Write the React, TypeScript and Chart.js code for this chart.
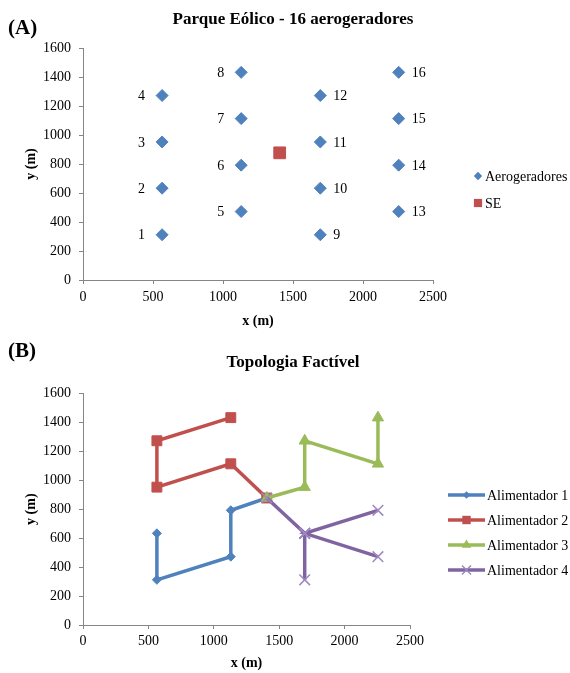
import React, { useEffect, useRef } from "react";
import { Chart, registerables } from "chart.js";

Chart.register(...registerables);

const SERIF = "'Liberation Serif', 'Times New Roman', Times, serif";
Chart.defaults.font.family = SERIF;
Chart.defaults.color = "#000";

// ---------------- data ----------------
const turbineLabels = ["1", "2", "3", "4", "5", "6", "7", "8", "9", "10", "11", "12", "13", "14", "15", "16"];
const turbineX = [565, 565, 565, 565, 1130, 1130, 1130, 1130, 1695, 1695, 1695, 1695, 2255, 2255, 2255, 2255];
const turbineY = [312, 633, 952, 1272, 472, 792, 1113, 1432, 312, 633, 952, 1272, 472, 792, 1113, 1432];
const substationX = [1405];
const substationY = [877];

const seriesNamesA = ["Aerogeradores", "SE"];
const feederNames = ["Alimentador 1", "Alimentador 2", "Alimentador 3", "Alimentador 4"];
// routes by turbine number; 0 = substation (SE)
const feederRoutes = [
  [2, 1, 5, 6, 0],
  [8, 4, 3, 7, 0],
  [0, 11, 12, 15, 16],
  [0, 10, 9, 10, 14, 10, 13],
];

const xMax = 2500;
const xStep = 500;
const yMax = 1600;
const yStep = 200;

const titleA = "Parque Eólico - 16 aerogeradores";
const titleB = "Topologia Factível";
const xTitle = "x (m)";
const yTitle = "y (m)";
const panelA = "(A)";
const panelB = "(B)";

// ---------------- styles ----------------
const AXIS = "#868686";
const BLUE = "#4F81BD";
const RED = "#C0504D";
const feederColors = ["#4F81BD", "#C0504D", "#9BBB59", "#8064A2"];
const feederPointColors = ["#4F81BD", "#C0504D", "#9BBB59", "#9D89C1"];
const feederPointStyles = ["rectRot", "rect", "triangle", "crossRot"];
const feederPointRadius = [4.5, 7, 6.5, 7.5];

function routePoints(route: number[]) {
  return route.map((n) =>
    n === 0
      ? { x: substationX[0], y: substationY[0] }
      : { x: turbineX[n - 1], y: turbineY[n - 1] }
  );
}

function drawMarker(ctx: CanvasRenderingContext2D, style: string, x: number, y: number, r: number, fill: string, stroke: string, lw: number) {
  ctx.save();
  ctx.fillStyle = fill;
  ctx.strokeStyle = stroke;
  ctx.lineWidth = lw;
  ctx.beginPath();
  if (style === "rectRot") {
    ctx.moveTo(x - r, y);
    ctx.lineTo(x, y - r);
    ctx.lineTo(x + r, y);
    ctx.lineTo(x, y + r);
    ctx.closePath();
    ctx.fill();
  } else if (style === "rect") {
    const s = r * Math.SQRT1_2;
    ctx.rect(x - s, y - s, 2 * s, 2 * s);
    ctx.fill();
  } else if (style === "triangle") {
    const h = r * 1.5;
    const w = r * 0.866;
    ctx.moveTo(x, y - h * 0.6667);
    ctx.lineTo(x + w, y + h * 0.3333);
    ctx.lineTo(x - w, y + h * 0.3333);
    ctx.closePath();
    ctx.fill();
  } else if (style === "crossRot") {
    const o = r * Math.SQRT1_2;
    ctx.moveTo(x - o, y - o);
    ctx.lineTo(x + o, y + o);
    ctx.moveTo(x + o, y - o);
    ctx.lineTo(x - o, y + o);
    ctx.stroke();
  }
  ctx.restore();
}

type LegendCfg = {
  markerX: number;
  textX: number;
  rowY: number[];
  lineFrom?: number;
  lineTo?: number;
  markerScale: number;
};

function makeLegendPlugin(cfg: LegendCfg) {
  return {
    id: "customLegend",
    afterDraw(chart: any) {
      const ctx = chart.ctx as CanvasRenderingContext2D;
      const dsets = chart.data.datasets;
      dsets.forEach((ds: any, i: number) => {
        const y = cfg.rowY[i];
        if (cfg.lineFrom !== undefined && cfg.lineTo !== undefined) {
          ctx.save();
          ctx.strokeStyle = ds.borderColor;
          ctx.lineWidth = ds.borderWidth;
          ctx.beginPath();
          ctx.moveTo(cfg.lineFrom, y);
          ctx.lineTo(cfg.lineTo, y);
          ctx.stroke();
          ctx.restore();
        }
        drawMarker(
          ctx,
          ds.pointStyle,
          cfg.markerX,
          y,
          ds.pointRadius * cfg.markerScale,
          ds.pointBackgroundColor || ds.backgroundColor,
          ds.pointBorderColor || ds.borderColor,
          ds.pointBorderWidth || 1
        );
        ctx.save();
        ctx.font = `14px ${SERIF}`;
        ctx.fillStyle = "#000";
        ctx.textAlign = "left";
        ctx.textBaseline = "middle";
        ctx.fillText(ds.label, cfg.textX, y + 1);
        ctx.restore();
      });
    },
  };
}

const turbineLabelPlugin = {
  id: "turbineLabels",
  afterDatasetsDraw(chart: any) {
    const meta = chart.getDatasetMeta(0);
    const ctx = chart.ctx as CanvasRenderingContext2D;
    ctx.save();
    ctx.font = `14px ${SERIF}`;
    ctx.fillStyle = "#000";
    ctx.textBaseline = "middle";
    meta.data.forEach((pt: any, i: number) => {
      const left = turbineX[i] < substationX[0];
      ctx.textAlign = left ? "right" : "left";
      ctx.fillText(turbineLabels[i], pt.x + (left ? -17 : 13), pt.y + 1);
    });
    ctx.restore();
  },
};

const plainNumber = (v: any) => String(v);

function buildScales(o: { xHeight: number; xTitlePad: number; xTickPad: number; reserveRight: number }) {
  return {
    x: {
      type: "linear",
      position: "bottom",
      min: 0,
      max: xMax,
      ticks: { stepSize: xStep, font: { size: 14 }, color: "#000", padding: o.xTickPad, maxRotation: 0, callback: plainNumber },
      grid: { display: true, drawOnChartArea: false, drawTicks: true, tickLength: 4, color: AXIS },
      border: { display: true, color: AXIS, width: 1 },
      title: { display: true, text: xTitle, font: { size: 14, weight: "bold" }, color: "#000", padding: { top: 0, bottom: o.xTitlePad } },
      afterFit: (s: any) => {
        s.height = o.xHeight;
      },
    },
    y: {
      type: "linear",
      position: "left",
      min: 0,
      max: yMax,
      ticks: { stepSize: yStep, font: { size: 14 }, color: "#000", padding: 8, callback: plainNumber },
      grid: { display: true, drawOnChartArea: false, drawTicks: true, tickLength: 4, color: AXIS },
      border: { display: true, color: AXIS, width: 1 },
      title: { display: true, text: yTitle, font: { size: 14, weight: "bold" }, color: "#000", padding: { top: 6.6, bottom: 0 } },
      afterFit: (s: any) => {
        s.width = 67;
      },
    },
    reserve: {
      type: "linear",
      position: "right",
      display: true,
      grid: { display: false },
      border: { display: false },
      ticks: { display: false },
      afterFit: (s: any) => {
        s.width = o.reserveRight;
      },
    },
  };
}

function ChartA() {
  const ref = useRef<HTMLCanvasElement | null>(null);
  useEffect(() => {
    if (!ref.current) return;
    const chart = new Chart(ref.current, {
      type: "scatter",
      data: {
        datasets: [
          {
            label: seriesNamesA[0],
            data: turbineX.map((x, i) => ({ x, y: turbineY[i] })),
            pointStyle: "rectRot",
            pointRadius: 6,
            backgroundColor: BLUE,
            borderColor: BLUE,
            pointBackgroundColor: BLUE,
            pointBorderColor: BLUE,
            pointBorderWidth: 1,
          } as any,
          {
            label: seriesNamesA[1],
            data: substationX.map((x, i) => ({ x, y: substationY[i] })),
            pointStyle: "rect",
            pointRadius: 8.3,
            backgroundColor: RED,
            borderColor: RED,
            pointBackgroundColor: RED,
            pointBorderColor: RED,
            pointBorderWidth: 1,
          } as any,
        ],
      },
      options: {
        responsive: false,
        animation: false,
        events: [],
        layout: { padding: { left: 16, right: 0, top: 0, bottom: 0 } },
        plugins: {
          legend: { display: false },
          tooltip: { enabled: false },
          title: {
            display: true,
            text: titleA,
            font: { size: 17, weight: "bold" },
            color: "#000",
            padding: { top: 9.8, bottom: 17.8 },
          },
        },
        scales: buildScales({ xHeight: 53, xTitlePad: 3, xTickPad: 5, reserveRight: 137 }) as any,
      },
      plugins: [
        turbineLabelPlugin,
        makeLegendPlugin({ markerX: 478, textX: 485, rowY: [176, 203], markerScale: 0.7 }),
      ],
    });
    return () => chart.destroy();
  }, []);
  return <canvas ref={ref} width={570} height={333} style={{ position: "absolute", left: 0, top: 0 }} />;
}

function ChartB() {
  const ref = useRef<HTMLCanvasElement | null>(null);
  useEffect(() => {
    if (!ref.current) return;
    const chart = new Chart(ref.current, {
      type: "scatter",
      data: {
        datasets: feederRoutes.map((route, i) => ({
          label: feederNames[i],
          data: routePoints(route),
          showLine: true,
          borderColor: feederColors[i],
          backgroundColor: feederColors[i],
          borderWidth: 3.5,
          pointStyle: feederPointStyles[i],
          pointRadius: feederPointRadius[i],
          pointBackgroundColor: feederPointColors[i],
          pointBorderColor: feederPointColors[i],
          pointBorderWidth: i === 3 ? 1.5 : 1,
          order: feederRoutes.length - i,
        })) as any,
      },
      options: {
        responsive: false,
        animation: false,
        events: [],
        layout: { padding: { left: 16, right: 0, top: 0, bottom: 0 } },
        plugins: {
          legend: { display: false },
          tooltip: { enabled: false },
          title: {
            display: true,
            text: titleB,
            font: { size: 17, weight: "bold" },
            color: "#000",
            padding: { top: 19.5, bottom: 20.4 },
          },
        },
        scales: buildScales({ xHeight: 48, xTitlePad: 1, xTickPad: 4, reserveRight: 160 }) as any,
      },
      plugins: [
        makeLegendPlugin({ markerX: 466.5, textX: 487, rowY: [162, 187, 212, 237], lineFrom: 448, lineTo: 485, markerScale: 0.85 }),
      ],
    });
    return () => chart.destroy();
  }, []);
  return <canvas ref={ref} width={570} height={340} style={{ position: "absolute", left: 0, top: 333 }} />;
}

const panelStyle: React.CSSProperties = {
  position: "absolute",
  left: 8,
  fontFamily: SERIF,
  fontWeight: "bold",
  fontSize: 21,
  lineHeight: "24px",
  color: "#000",
  zIndex: 2,
};

export default function App() {
  return (
    <div style={{ position: "absolute", left: 0, top: 0, width: 570, height: 673, background: "#fff", overflow: "hidden" }}>
      <ChartA />
      <ChartB />
      <div style={{ ...panelStyle, top: 15 }}>{panelA}</div>
      <div style={{ ...panelStyle, top: 338 }}>{panelB}</div>
    </div>
  );
}
